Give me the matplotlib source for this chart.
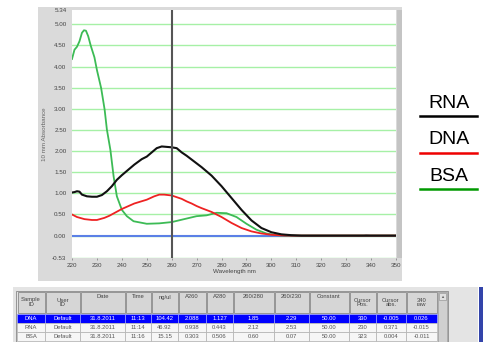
import matplotlib
matplotlib.use("Agg")
import matplotlib.pyplot as plt
from matplotlib.patches import Rectangle

# spectra (wavelength nm, absorbance)
rna_wl = [220, 221, 222, 223, 224, 226, 228, 230, 232, 234, 236, 238, 240, 242, 245, 248, 250,
          252, 254, 256, 258, 260, 262, 264, 266, 268, 270, 272, 276, 280, 284, 288, 292, 296,
          300, 304, 308, 312, 350]
rna_abs = [1.02, 1.03, 1.05, 1.04, 0.97, 0.93, 0.92, 0.92, 0.96, 1.05, 1.17, 1.32, 1.43, 1.53,
           1.68, 1.81, 1.87, 1.97, 2.07, 2.11, 2.10, 2.09, 2.07, 1.97, 1.89, 1.80, 1.71, 1.62,
           1.42, 1.17, 0.89, 0.61, 0.36, 0.18, 0.08, 0.03, 0.01, 0.0, 0.0]

dna_wl = [220, 222, 225, 228, 230, 233, 235, 240, 245, 250, 253, 255, 257, 260, 262, 264, 266,
          268, 270, 272, 276, 280, 284, 288, 292, 296, 300, 304, 308, 350]
dna_abs = [0.50, 0.44, 0.39, 0.37, 0.37, 0.42, 0.47, 0.63, 0.76, 0.85, 0.93, 0.97, 0.97, 0.95,
           0.91, 0.87, 0.81, 0.76, 0.70, 0.65, 0.56, 0.44, 0.30, 0.18, 0.10, 0.05, 0.02, 0.005,
           0.0, 0.0]

bsa_wl = [220, 221, 222, 223, 224, 224.8, 225.6, 226.5, 227.5, 229, 230, 231.7, 233.1, 234,
          235.4, 236.7, 238, 240, 242, 244.7, 250, 255, 260, 265, 270, 274, 278, 282, 286, 290,
          294, 298, 302, 306, 350]
bsa_abs = [4.18, 4.40, 4.47, 4.60, 4.80, 4.86, 4.85, 4.72, 4.50, 4.22, 3.92, 3.49, 2.98, 2.51,
           2.03, 1.40, 0.93, 0.61, 0.46, 0.34, 0.28, 0.29, 0.32, 0.39, 0.46, 0.48, 0.54, 0.53,
           0.44, 0.28, 0.14, 0.05, 0.01, 0.0, 0.0]

tail_wl = [305, 314, 316, 319, 322, 333, 335, 337, 338, 340, 347, 349, 350]
tail_abs = [0.0, 0.0, -0.01, -0.01, 0.0, 0.0, -0.008, 0.0, 0.008, 0.0, 0.0, -0.01, 0.005]

cursor_nm = 260
y_ticks = [-0.53, 0.0, 0.5, 1.0, 1.5, 2.0, 2.5, 3.0, 3.5, 4.0, 4.5, 5.0, 5.34]
x_ticks = list(range(220, 351, 10))

legend_names = ["RNA", "DNA", "BSA"]
legend_colors = ["black", "#ee0000", "#009900"]

col_headers = ["Sample\nID", "User\nID", "Date", "Time", "ng/ul", "A260", "A280", "260/280",
               "260/230", "Constant", "Cursor\nPos.", "Cursor\nabs.", "340\nraw"]
rows = [
    ["DNA", "Default", "31.8.2011", "11:13", "104.42", "2.088", "1.127", "1.85", "2.29", "50.00", "330", "-0.005", "0.026"],
    ["RNA", "Default", "31.8.2011", "11:14", "46.92", "0.938", "0.443", "2.12", "2.53", "50.00", "230", "0.371", "-0.015"],
    ["BSA", "Default", "31.8.2011", "11:16", "15.15", "0.303", "0.506", "0.60", "0.07", "50.00", "323", "0.004", "-0.011"],
]
col_edges = [17, 45, 80, 125, 151, 178, 206, 233, 274, 309, 349, 376, 406, 437]

W, H = 484, 342
fig = plt.figure(figsize=(W / 100, H / 100), dpi=100)
fig.patch.set_facecolor("white")
plt.rcParams["font.family"] = ["Liberation Sans", "DejaVu Sans"]

# background layer in pixel coordinates
bg = fig.add_axes([0, 0, 1, 1], zorder=0)
bg.set_xlim(0, W)
bg.set_ylim(H, 0)
bg.axis("off")
bg.add_patch(Rectangle((38, 7), 364, 274, color="#dadada", lw=0))
bg.add_patch(Rectangle((397, 10), 5, 248, color="#c4c4c4", lw=0))
bg.add_patch(Rectangle((13, 287), 465, 56, color="#e4e4e4", lw=0))
bg.add_patch(Rectangle((479, 287), 4, 56, color="#3344aa", lw=0))

# main plot
ax = fig.add_axes([72 / W, 1 - 258 / H, 324 / W, 248 / H], zorder=1)
ax.set_facecolor("white")
ax.set_xlim(220, 350)
ax.set_ylim(-0.53, 5.34)
for t in y_ticks[:-1]:
    ax.axhline(t, color="#a6f0a6", lw=1.0, zorder=1)
ax.axhline(0, color="#5b80e6", lw=1.5, zorder=2)
ax.plot(tail_wl, tail_abs, color="#223399", lw=0.8, zorder=3)
ax.plot(bsa_wl, bsa_abs, color="#3cbb55", lw=1.3, zorder=4)
ax.plot(dna_wl, dna_abs, color="#ee2222", lw=1.3, zorder=4)
ax.plot(rna_wl, rna_abs, color="#111111", lw=1.5, zorder=5)
ax.axvline(cursor_nm, color="#555555", lw=1.5, zorder=6)

ax.set_xticks(x_ticks)
ax.set_yticks(y_ticks)
ax.set_yticklabels(["%.2f" % v for v in y_ticks])
ax.tick_params(axis="both", labelsize=4.5, labelcolor="#444444", color="#777777",
               length=1.5, width=0.5, pad=2)
ax.tick_params(axis="y", length=0, pad=4)
ax.set_xlabel("Wavelength nm", fontsize=4.5, color="#444444", labelpad=1)
ax.set_ylabel("10 mm Absorbance", fontsize=4.5, color="#666666", labelpad=4)
for s in ax.spines.values():
    s.set_visible(False)

# legend on the right
for i, (name, c) in enumerate(zip(legend_names, legend_colors)):
    base = 108 + i * 36.5
    bg.text(449, base, name, fontsize=14, ha="center", va="baseline", color="black")
    bg.plot([420, 477], [base + 8, base + 8], color=c, lw=1.8)

# results table
head_top, head_bot = 292, 313
row_h = 9.3
bg.add_patch(Rectangle((16, 291), col_edges[-1] - 16 + 11, 52, fill=False, ec="#888888", lw=0.6))
for j, h in enumerate(col_headers):
    x0, x1 = col_edges[j], col_edges[j + 1]
    bg.add_patch(Rectangle((x0 + 0.5, head_top), x1 - x0 - 1, head_bot - head_top,
                           fc="#d6d6d6", ec="#8a8a8a", lw=0.6))
    ty = (head_top + head_bot) / 2 if "\n" in h else head_top + 5
    bg.text((x0 + x1) / 2, ty, h, fontsize=4.2, ha="center", va="center",
            color="#444444", linespacing=1.0)
for i, r in enumerate(rows):
    y0 = head_bot + 0.5 + i * row_h
    sel = i == 0
    for j, v in enumerate(r):
        x0, x1 = col_edges[j], col_edges[j + 1]
        bg.add_patch(Rectangle((x0, y0), x1 - x0, row_h,
                               fc="#0000ff" if sel else "#f6f6f6",
                               ec="#9aa0ff" if sel else "#b0b0b0", lw=0.5))
        bg.text((x0 + x1) / 2, y0 + row_h / 2, v, fontsize=4.2, ha="center", va="center",
                color="white" if sel else "#555555")
# scrollbar
bg.add_patch(Rectangle((col_edges[-1] + 1, head_top), 9, 52, fc="#d0d0d0", ec="#999999", lw=0.5))
bg.add_patch(Rectangle((col_edges[-1] + 2, head_top + 1), 7, 7, fc="#e0e0e0", ec="#999999", lw=0.5))
bg.text(col_edges[-1] + 5.5, head_top + 4.5, "▲", fontsize=3, ha="center", va="center", color="#666666")

fig.savefig("out.png", dpi=100)
